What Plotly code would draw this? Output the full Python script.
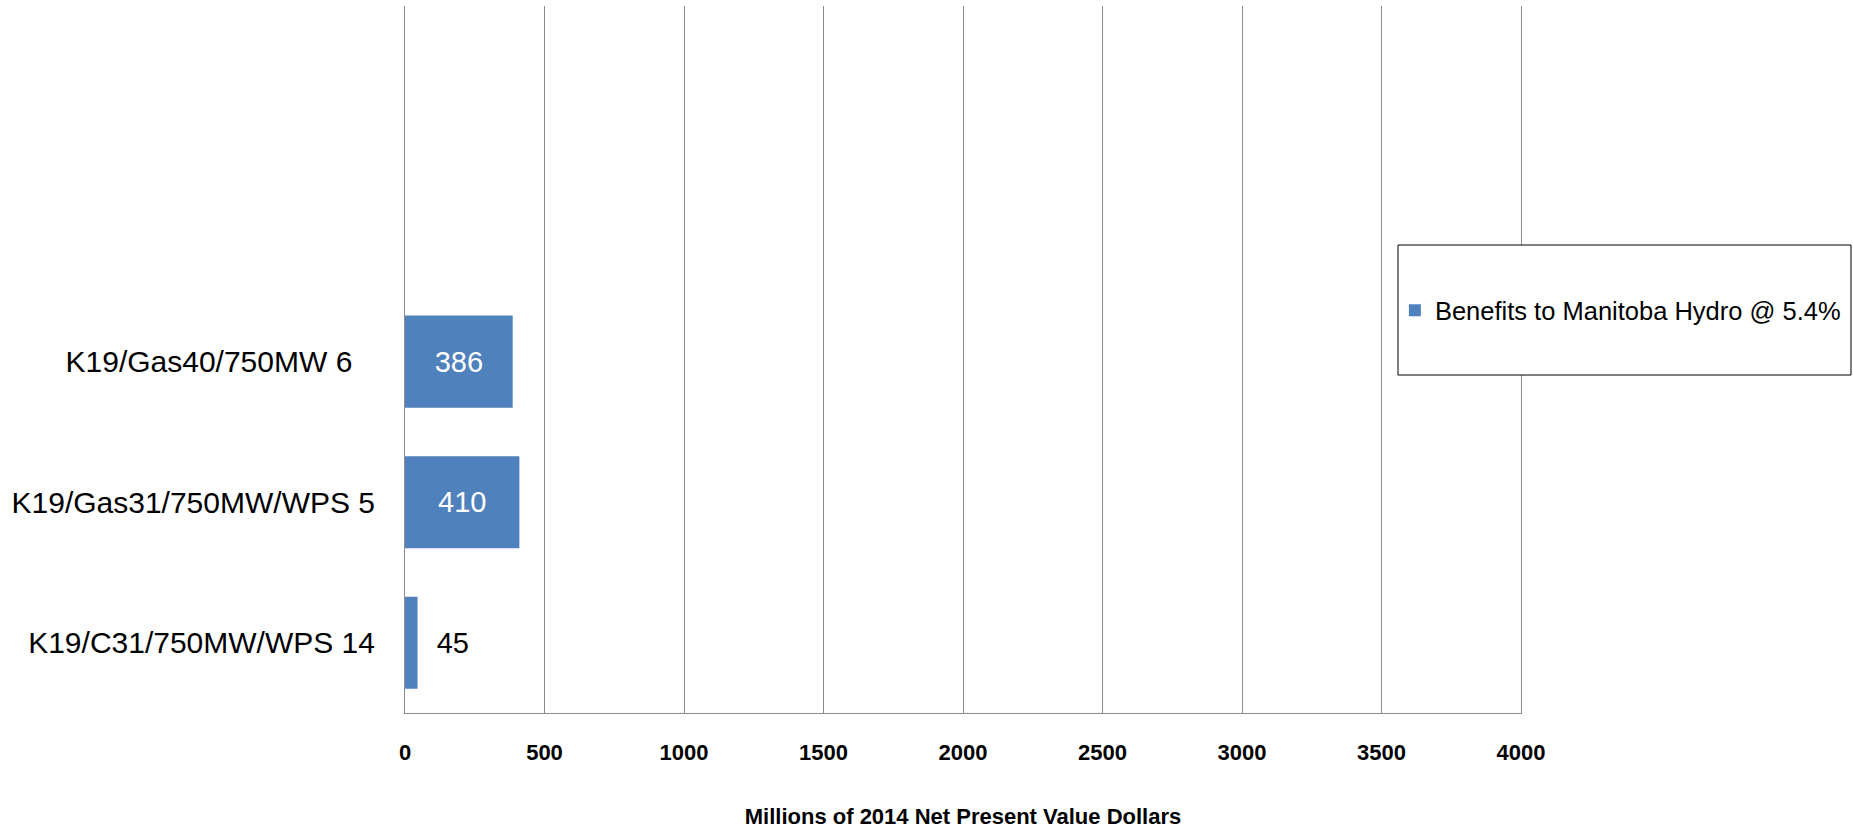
import plotly.graph_objects as go

categories = ["K19/C31/750MW/WPS 14", "K19/Gas31/750MW/WPS 5", "K19/Gas40/750MW 6\u00a0\u00a0\u2009"]
values = [45, 410, 386]
label_positions = ["outside", "inside", "inside"]
series_name = "Benefits to Manitoba Hydro @ 5.4%"
x_ticks = [0, 500, 1000, 1500, 2000, 2500, 3000, 3500, 4000]
x_title = "Millions of 2014 Net Present Value Dollars"

NARROW = "Liberation Sans Narrow, Arial Narrow, Liberation Sans, Arial, sans-serif"
BLUE = "#4F81BD"
GRID = "#8c8c8c"

fig = go.Figure()
fig.add_trace(go.Bar(
    y=categories,
    x=values,
    orientation="h",
    name=series_name,
    marker=dict(color=BLUE, line=dict(width=0)),
    width=0.655,
    text=[("\u00a0\u00a0" + str(v)) if p == "outside" else str(v) for v, p in zip(values, label_positions)],
    textposition=label_positions,
    insidetextanchor="middle",
    insidetextfont=dict(color="white", size=29, family=NARROW),
    outsidetextfont=dict(color="black", size=29, family=NARROW),
    textangle=0,
    cliponaxis=False,
    showlegend=True,
))

fig.update_layout(
    width=1853,
    height=832,
    paper_bgcolor="white",
    plot_bgcolor="white",
    margin=dict(l=405, r=332, t=6, b=119, autoexpand=False),
    font=dict(family=NARROW, color="black"),
    showlegend=True,
    legend=dict(
        x=0.887, xref="paper", y=0.569, yref="paper",
        xanchor="left", yanchor="middle",
        bgcolor="rgba(0,0,0,0)",
        borderwidth=0,
        font=dict(size=25.5, family=NARROW, color="black"),
        itemwidth=30,
    ),
    shapes=[dict(
        type="rect", xref="paper", yref="paper",
        x0=(1398 - 405) / 1116, x1=(1851 - 405) / 1116,
        y0=(713 - 375) / 707, y1=(713 - 245) / 707,
        line=dict(color="black", width=1),
        fillcolor="white",
        layer="above",
    )],
    bargap=0.345,
)

fig.update_xaxes(
    range=[0, 4000],
    tickvals=x_ticks,
    ticktext=[str(t) for t in x_ticks],
    showgrid=True,
    gridcolor=GRID,
    gridwidth=1,
    zeroline=False,
    showline=True,
    linecolor=GRID,
    linewidth=1,
    ticks="outside",
    ticklen=0,
    ticklabelstandoff=20,
    tickfont=dict(size=22, family=NARROW, color="black", weight="bold"),
    title=dict(text="<b>" + x_title + "</b>", font=dict(size=22, family=NARROW, color="black"), standoff=44),
)
fig.update_yaxes(
    type="category",
    categoryorder="array",
    categoryarray=categories,
    range=[-0.5, 4.53],
    showgrid=False,
    zeroline=False,
    showline=True,
    mirror=True,
    linecolor=GRID,
    linewidth=1,
    ticks="outside",
    ticklen=0,
    ticklabelstandoff=23,
    tickfont=dict(size=30, family=NARROW, color="black"),
)

fig.write_html("out.html")
